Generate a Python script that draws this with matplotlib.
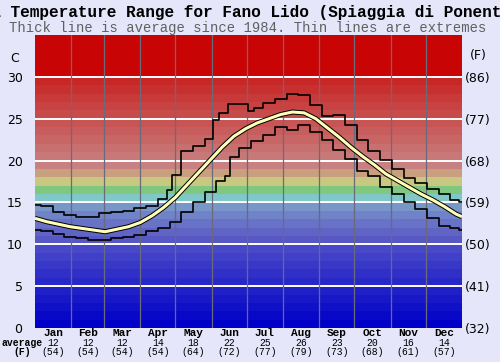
#%% IMPORTS                    ~~~~~~~~~~~~~~~~~~~~~~~~~~~~~~~~~~~~~~~~~~~~
import matplotlib
matplotlib.use('Agg')
from matplotlib import pyplot as plt

#%% DATA                       ~~~~~~~~~~~~~~~~~~~~~~~~~~~~~~~~~~~~~~~~~~~~
# day of year -> water temperature (C)
avg_days = [0, 10, 20, 30, 40, 50, 60, 70, 80, 90, 100, 110, 120, 130, 140,
            150, 160, 170, 180, 190, 200, 210, 220, 230, 240, 250, 260, 270,
            280, 290, 300, 310, 320, 330, 340, 350, 360, 365]
avg_c = [13.1, 12.7, 12.4, 12.1, 11.9, 11.7, 11.5, 11.8, 12.1, 12.6, 13.4,
         14.4, 15.6, 17.1, 18.6, 20.1, 21.6, 22.9, 23.8, 24.5, 25.0, 25.5,
         25.8, 25.7, 25.0, 23.9, 22.8, 21.6, 20.5, 19.5, 18.4, 17.6, 16.8,
         16.0, 15.3, 14.5, 13.6, 13.3]

max_days = [0, 10, 20, 30, 40, 50, 60, 70, 80, 90, 100, 110, 115, 120, 130,
            140, 150, 155, 160, 170, 180, 185, 190, 200, 210, 220, 230, 240,
            250, 260, 270, 280, 290, 300, 310, 320, 330, 340, 350, 360, 365]
max_c = [14.7, 14.6, 13.9, 13.5, 13.3, 13.3, 13.7, 13.8, 14.0, 14.3, 14.6,
         15.4, 16.5, 18.3, 21.2, 21.8, 22.6, 24.9, 25.7, 26.7, 26.7, 25.9,
         26.3, 26.9, 27.3, 27.9, 27.8, 26.6, 25.3, 25.4, 24.3, 22.5, 21.2,
         20.1, 19.0, 17.9, 17.3, 16.6, 16.0, 15.3, 15.0]

min_days = [0, 10, 20, 30, 40, 50, 60, 70, 80, 90, 100, 110, 120, 130, 140,
            150, 160, 165, 168, 180, 190, 200, 210, 220, 230, 240, 250, 260,
            270, 280, 290, 300, 310, 320, 330, 340, 350, 360, 365]
min_c = [11.7, 11.6, 11.2, 10.9, 10.7, 10.5, 10.5, 10.8, 10.9, 11.1, 11.6,
         12.0, 12.7, 13.8, 15.0, 16.2, 17.6, 18.2, 20.4, 21.5, 22.3, 23.1,
         24.0, 23.7, 24.2, 23.4, 22.4, 21.3, 20.2, 18.8, 18.1, 16.9, 16.0,
         15.0, 14.2, 13.1, 12.2, 11.9, 11.7]

months = ['Jan', 'Feb', 'Mar', 'Apr', 'May', 'Jun',
          'Jul', 'Aug', 'Sep', 'Oct', 'Nov', 'Dec']
month_avg_c = [12, 12, 12, 14, 18, 22, 25, 26, 23, 20, 16, 14]
month_avg_f = [54, 54, 54, 54, 64, 72, 77, 79, 73, 68, 61, 57]

c_ticks = [0, 5, 10, 15, 20, 25, 30]
f_labels = ['(32)', '(41)', '(50)', '(59)', '(68)', '(77)', '(86)']

#%% CONFIGURATION              ~~~~~~~~~~~~~~~~~~~~~~~~~~~~~~~~~~~~~~~~~~~~
month_edges = [0, 31, 59, 90, 120, 151, 181, 212, 243, 273, 304, 334, 365]
bg = '#e6e6fa'
mono = 'Liberation Mono'

# one colour per degree band, blue at the bottom up to deep red
band_rgb = []
for i in range(10):
    band_rgb.append((8 * i, 8 * i, 200))
band_rgb += [(88, 88, 196), (96, 100, 196), (104, 114, 198), (112, 130, 200),
             (120, 150, 200), (128, 200, 200), (128, 200, 128), (200, 200, 128),
             (200, 160, 128), (200, 128, 128)]
for i in range(10):
    band_rgb.append((200, 120 - 9 * i, 120 - 9 * i))
for i in range(5):
    band_rgb.append((200, 4, 4))

#%% PLOT                       ~~~~~~~~~~~~~~~~~~~~~~~~~~~~~~~~~~~~~~~~~~~~
fig = plt.figure(figsize=(5, 3.62), dpi=100, facecolor=bg)
ax = fig.add_axes([35 / 500, 34 / 362, 427 / 500, 293 / 362])

for deg, rgb in enumerate(band_rgb):
    ax.axhspan(deg, deg + 1, color=[v / 255 for v in rgb], lw=0, zorder=0)

for t in c_ticks[1:]:
    ax.axhline(t, color='white', lw=1.4, zorder=1)
for e in month_edges[1:-1]:
    ax.axvline(e, color='#6a6a7a', lw=0.9, zorder=1)

# extremes are drawn as steps, the average as a thick outlined line
ax.plot(max_days, max_c, color='black', lw=1.2, zorder=3, drawstyle='steps-mid')
ax.plot(min_days, min_c, color='black', lw=1.2, zorder=3, drawstyle='steps-mid')
ax.plot(avg_days, avg_c, color='black', lw=3.6, zorder=4, solid_capstyle='butt')
ax.plot(avg_days, avg_c, color='#ffffb8', lw=2.2, zorder=5, solid_capstyle='butt')

ax.set_xlim(0, 365)
ax.set_ylim(0, 35)
ax.set_xticks([])
ax.set_yticks(c_ticks)
ax.tick_params(axis='y', length=0, pad=9, labelsize=9)
for s in ax.spines.values():
    s.set_visible(False)

ax2 = ax.twinx()
ax2.set_ylim(0, 35)
ax2.set_yticks(c_ticks)
ax2.set_yticklabels(f_labels)
ax2.tick_params(axis='y', length=0, pad=2, labelsize=9)
for s in ax2.spines.values():
    s.set_visible(False)

fig.text(15 / 500, 1 - 58 / 362, 'C', ha='center', va='center', fontsize=9)
fig.text(478 / 500, 1 - 55 / 362, '(F)', ha='center', va='center', fontsize=9)

# month labels under the plot
for i in range(12):
    xm = (month_edges[i] + month_edges[i + 1]) / 2
    xf = (35 + xm / 365 * 427) / 500
    fig.text(xf, 1 - 333.5 / 362, months[i], ha='center', va='center',
             fontsize=8, family=mono, fontweight='bold')
    fig.text(xf, 1 - 343 / 362, str(month_avg_c[i]), ha='center',
             va='center', fontsize=7, family=mono)
    fig.text(xf, 1 - 352 / 362, '(%d)' % month_avg_f[i], ha='center',
             va='center', fontsize=7, family=mono)
fig.text(22 / 500, 1 - 343 / 362, 'average', ha='center', va='center',
         fontsize=7, family=mono, fontweight='bold')
fig.text(22 / 500, 1 - 352 / 362, '(F)', ha='center', va='center',
         fontsize=7, family=mono, fontweight='bold')

# titles (the long title runs off the left and right edges)
fig.text(246 / 500, 1 - 12 / 362,
         'Sea Temperature Range for Fano Lido (Spiaggia di Ponente)',
         ha='center', va='center', fontsize=11.6, family=mono, fontweight='bold')
fig.text(248 / 500, 1 - 28 / 362,
         'Thick line is average since 1984. Thin lines are extremes',
         ha='center', va='center', fontsize=10, family=mono, color='#606060')

plt.savefig('out.png', dpi=100, facecolor=bg)
